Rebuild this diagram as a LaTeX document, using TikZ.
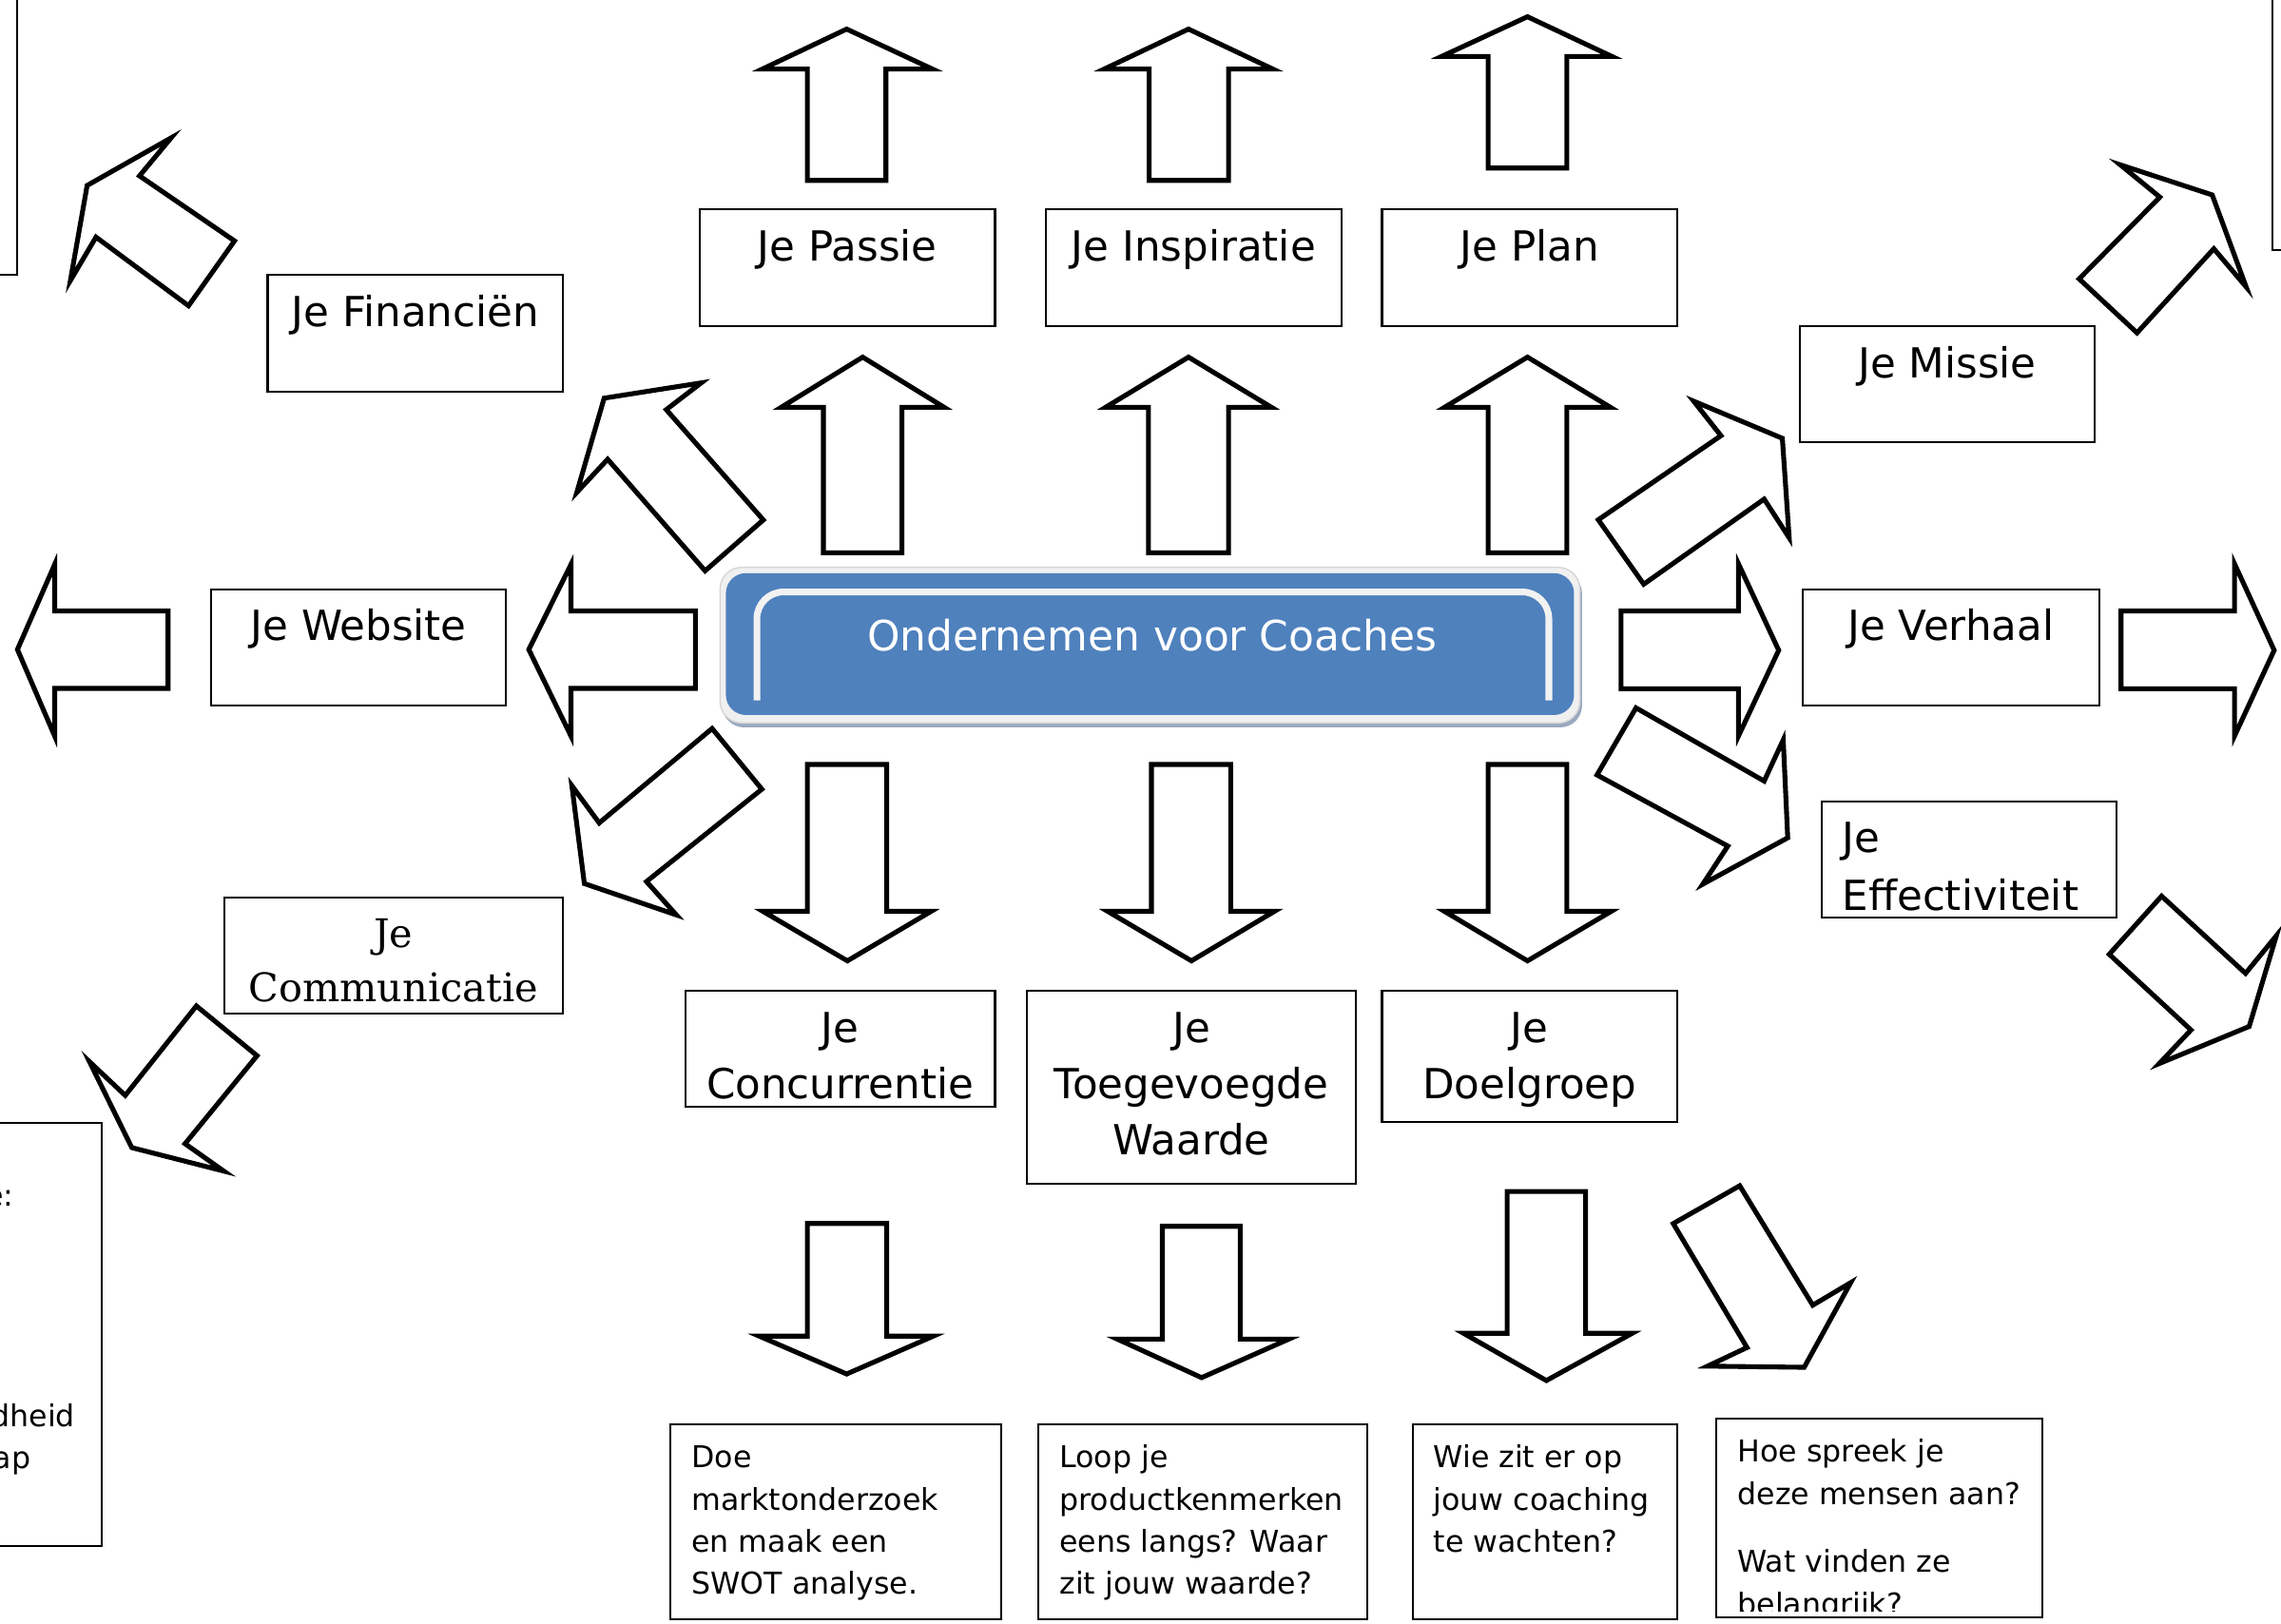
\documentclass[tikz,border=0pt]{standalone}
\usepackage{fontspec}
\setmainfont{DejaVu Sans}
\newfontfamily\seriffam{DejaVu Serif}
\definecolor{coreblue}{HTML}{4F81BD}
\definecolor{coreedge}{HTML}{F0F0F0}
\definecolor{coreedgeline}{HTML}{D6D6D6}
\definecolor{coreshadow}{HTML}{9AA9C0}
\definecolor{innerline}{HTML}{F2F2F2}
\tikzset{
  blk/.style={draw=black, fill=white, line width=1.45pt, line join=miter},
  boxs/.style={draw=black, line width=0.6pt, fill=white, inner sep=0pt, outer sep=0pt, anchor=north west},
  lbl/.style={font=\fontsize{12.4}{16.8}\selectfont, inner sep=0pt, anchor=base},
  slbl/.style={font=\seriffam\fontsize{11.8}{16.4}\selectfont, inner sep=0pt, anchor=base},
  llbl/.style={font=\fontsize{12.4}{16.8}\selectfont, inner sep=0pt, anchor=base west},
  small/.style={font=\fontsize{9}{12.6}\selectfont, inner sep=0pt, anchor=base west},
  smallr/.style={font=\fontsize{9}{12.6}\selectfont, inner sep=0pt, anchor=base east},
}
\newcommand\mkbox[5]{\node[boxs, minimum width={(#4-#2)*0.0153cm}, minimum height={(#5-#3)*0.0153cm}] (#1) at (#2,#3) {};}
\begin{document}
\begin{tikzpicture}[x=0.0153cm, y=-0.0153cm]
\useasboundingbox (0,0) rectangle (1568,1116);
\fill[white] (0,0) rectangle (1568,1116);

% ---------- partial boxes at the edges ----------
\mkbox{tl}{-100}{-20}{12}{189}
\mkbox{tr}{1562}{-20}{1700}{172}
\mkbox{bl}{-100}{772}{70}{1063}
\node[smallr] (blA) at (9.8,829) {e:};
\node[smallr] (blB) at (52,981) {dheid};
\node[smallr] (blC) at (21.5,1009.5) {ap};

% ---------- label boxes ----------
\mkbox{fin}{184}{189}{387}{269}
\node[lbl] (finT) at (285.5,224.5) {Je Financiën};
\mkbox{pas}{481}{144}{684}{224}
\node[lbl] (pasT) at (582.5,179.5) {Je Passie};
\mkbox{ins}{719}{144}{922}{224}
\node[lbl] (insT) at (820.5,179.5) {Je Inspiratie};
\mkbox{pla}{950}{144}{1153}{224}
\node[lbl] (plaT) at (1051.5,179.5) {Je Plan};
\mkbox{mis}{1237}{224}{1440}{304}
\node[lbl] (misT) at (1338.5,259.5) {Je Missie};
\mkbox{web}{145}{405}{348}{485}
\node[lbl] (webT) at (246.5,440.5) {Je Website};
\mkbox{ver}{1239}{405}{1443}{485}
\node[lbl] (verT) at (1341,440.5) {Je Verhaal};
\mkbox{eff}{1252}{551}{1455}{631}
\begin{scope}
\clip (1253,552) rectangle (1454,625.5);
\node[llbl] (effA) at (1266,586) {Je};
\node[llbl] (effB) at (1266,625.5) {Effectiviteit};
\end{scope}
\mkbox{com}{154}{617}{387}{697}
\node[slbl] (comA) at (270.5,651) {Je};
\node[slbl] (comB) at (270.5,688.8) {Communicatie};
\mkbox{con}{471}{681}{684}{761}
\node[lbl] (conA) at (577.5,716.5) {Je};
\node[lbl] (conB) at (577.5,755) {Concurrentie};
\mkbox{toe}{706}{681}{932}{814}
\node[lbl] (toeA) at (819,716.5) {Je};
\node[lbl] (toeB) at (819,755) {Toegevoegde};
\node[lbl] (toeC) at (819,793.5) {Waarde};
\mkbox{doe}{950}{681}{1153}{771}
\node[lbl] (doeA) at (1051.5,716.5) {Je};
\node[lbl] (doeB) at (1051.5,755) {Doelgroep};

% ---------- bottom text boxes ----------
\mkbox{bA}{461}{979}{688}{1113}
\node[small] (bA1) at (475,1009) {Doe};
\node[small] (bA2) at (475,1038) {marktonderzoek};
\node[small] (bA3) at (475,1067) {en maak een};
\node[small] (bA4) at (475,1096) {SWOT analyse.};
\mkbox{bB}{714}{979}{940}{1113}
\node[small] (bB1) at (728,1009) {Loop je};
\node[small] (bB2) at (728,1038) {productkenmerken};
\node[small] (bB3) at (728,1067) {eens langs? Waar};
\node[small] (bB4) at (728,1096) {zit jouw waarde?};
\mkbox{bC}{971}{979}{1153}{1113}
\node[small] (bC1) at (985,1009) {Wie zit er op};
\node[small] (bC2) at (985,1038) {jouw coaching};
\node[small] (bC3) at (985,1067) {te wachten?};
\mkbox{bD}{1180}{975}{1404}{1112}
\begin{scope}
\clip (1181,976) rectangle (1403,1107.5);
\node[small] (bD1) at (1194,1005) {Hoe spreek je};
\node[small] (bD2) at (1194,1034) {deze mensen aan?};
\node[small] (bD3) at (1194,1081) {Wat vinden ze};
\node[small] (bD4) at (1194,1110) {belangrijk?};
\end{scope}

% ---------- central box ----------
\fill[coreshadow, rounded corners=6.5pt] (496.5,393) rectangle (1087.5,500);
\filldraw[fill=coreedge, draw=coreedgeline, line width=0.4pt, rounded corners=6.5pt] (495,390) rectangle (1086,497);
\fill[coreblue, rounded corners=6pt] (499,394) rectangle (1082,491.5);
\draw[innerline, line width=2pt, rounded corners=8pt] (520.3,481.5) -- (520.3,406.9) -- (1064.7,406.9) -- (1064.7,481.5);
\node[font=\fontsize{12.5}{15}\selectfont, text=white, inner sep=0pt, anchor=base] (core) at (792,447.7) {Ondernemen voor Coaches};

% ---------- up arrows (top row) ----------
\draw[blk] (582,20) -- (641,47.5) -- (609,47.5) -- (609,124) -- (555,124) -- (555,47.5) -- (524,47.5) -- cycle;
\draw[blk] (817,20) -- (875,47.5) -- (844.5,47.5) -- (844.5,124) -- (790,124) -- (790,47.5) -- (759,47.5) -- cycle;
\draw[blk] (1050,11.5) -- (1108,38.8) -- (1077,38.8) -- (1077,115.5) -- (1023,115.5) -- (1023,38.8) -- (991,38.8) -- cycle;
% ---------- up arrows (from centre) ----------
\draw[blk] (593,245.5) -- (649,280) -- (620,280) -- (620,380) -- (566,380) -- (566,280) -- (537,280) -- cycle;
\draw[blk] (817,245.5) -- (874,280) -- (844.5,280) -- (844.5,380) -- (789.5,380) -- (789.5,280) -- (760,280) -- cycle;
\draw[blk] (1050,245.5) -- (1107,280) -- (1077,280) -- (1077,380) -- (1023,380) -- (1023,280) -- (993,280) -- cycle;
% ---------- down arrows (from centre) ----------
\draw[blk] (582.5,660.5) -- (524.5,626.5) -- (555,626.5) -- (555,525.5) -- (609.5,525.5) -- (609.5,626.5) -- (640,626.5) -- cycle;
\draw[blk] (819,660.5) -- (761.5,626.5) -- (791.5,626.5) -- (791.5,525.5) -- (846,525.5) -- (846,626.5) -- (876,626.5) -- cycle;
\draw[blk] (1050,660.5) -- (993,626.5) -- (1023,626.5) -- (1023,525.5) -- (1077,525.5) -- (1077,626.5) -- (1107.5,626.5) -- cycle;
% ---------- down arrows (bottom row) ----------
\draw[blk] (582,944.5) -- (522,918.5) -- (555,918.5) -- (555,841) -- (609.5,841) -- (609.5,918.5) -- (641.5,918.5) -- cycle;
\draw[blk] (826,947) -- (768,920.5) -- (799,920.5) -- (799,843) -- (852.5,843) -- (852.5,920.5) -- (886,920.5) -- cycle;
\draw[blk] (1063,949) -- (1006,916.5) -- (1036,916.5) -- (1036,819) -- (1090,819) -- (1090,916.5) -- (1122,916.5) -- cycle;
\draw[blk] (1240.2,939.9) -- (1173.8,939.1) -- (1200.9,926.3) -- (1150.2,841.1) -- (1195.9,815.1) -- (1246.1,897.2) -- (1272.2,881.7) -- cycle;
% ---------- horizontal arrows ----------
\draw[blk] (12,446.5) -- (37.6,388) -- (37.6,420) -- (115.5,420) -- (115.5,473.2) -- (37.6,473.2) -- (37.6,506) -- cycle;
\draw[blk] (363.5,446.5) -- (392.5,388) -- (392.5,420) -- (478,420) -- (478,473.2) -- (392.5,473.2) -- (392.5,506) -- cycle;
\draw[blk] (1222.7,447) -- (1195,387.5) -- (1195,420) -- (1114.3,420) -- (1114.3,473.5) -- (1195,473.5) -- (1195,506) -- cycle;
\draw[blk] (1563.3,447) -- (1536,387.5) -- (1536,420) -- (1458,420) -- (1458,473.5) -- (1536,473.5) -- (1536,506) -- cycle;
% ---------- diagonal arrows ----------
\draw[blk] (59.9,127.5) -- (117.6,94.8) -- (95.9,120.9) -- (161.2,165.6) -- (129.6,210.2) -- (66,163) -- (48.4,192.8) -- cycle;
\draw[blk] (415.3,273.7) -- (482,263.2) -- (458,281.6) -- (524.7,357.4) -- (484.7,392.4) -- (417.7,315.7) -- (396.5,338.5) -- cycle;
\draw[blk] (1520.7,134) -- (1544,197.2) -- (1521.8,171) -- (1469,228.8) -- (1429.2,191.7) -- (1484.7,135.5) -- (1457.5,113.3) -- cycle;
\draw[blk] (1225.2,301.3) -- (1229.9,369.7) -- (1212.7,343.1) -- (1129.9,401.6) -- (1098.7,357.3) -- (1183,299.5) -- (1164.3,275.8) -- cycle;
\draw[blk] (1228.9,575.9) -- (1170.5,607.8) -- (1187.7,581.6) -- (1097.8,532.7) -- (1124.6,486.6) -- (1212.7,536.9) -- (1225.8,508.6) -- cycle;
\draw[blk] (1546.1,705.6) -- (1484.3,731.1) -- (1506.1,708) -- (1449.9,656) -- (1485.9,616) -- (1543.6,669.1) -- (1564.8,643.2) -- cycle;
\draw[blk] (401.7,607.4) -- (393.1,540.1) -- (411.9,565.7) -- (489.5,500.8) -- (523.7,542.5) -- (444.4,606) -- (464.9,628.9) -- cycle;
\draw[blk] (90.6,788.9) -- (61.5,729.8) -- (86.1,753) -- (135,691.5) -- (176.7,725.7) -- (127.2,786.2) -- (153.8,805) -- cycle;
\end{tikzpicture}
\end{document}
